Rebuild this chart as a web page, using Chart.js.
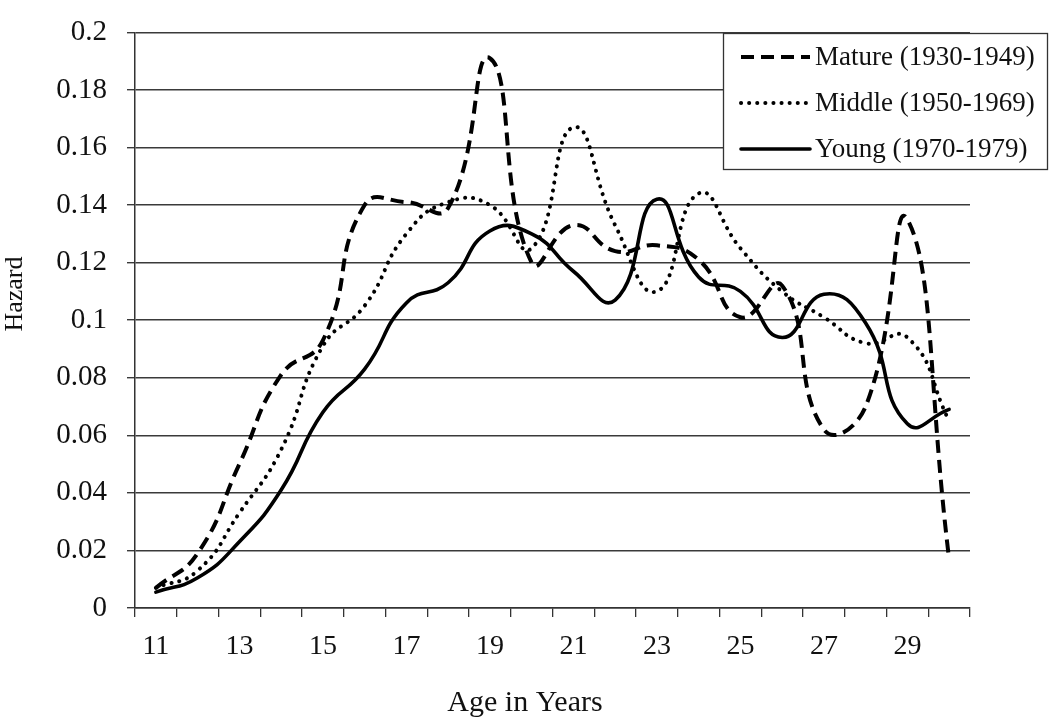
<!DOCTYPE html>
<html>
<head>
<meta charset="utf-8">
<script src="https://cdn.jsdelivr.net/npm/chart.js@4.4.1/dist/chart.umd.min.js"></script>
<style>
  html, body { margin: 0; padding: 0; background: #fff; }
  #wrap { width: 1050px; height: 719px; position: relative; }
</style>
</head>
<body>
<div id="wrap"><canvas id="hazardChart"></canvas></div>
<script>
/* Hazard by age, three birth cohorts */

var ages = ['11', '12', '13', '14', '15', '16', '17', '18', '19', '20',
            '21', '22', '23', '24', '25', '26', '27', '28', '29', '30'];

var matureVals = [0.007, 0.019, 0.050, 0.081, 0.093, 0.140, 0.141, 0.139, 0.191, 0.120,
                  0.133, 0.124, 0.126, 0.121, 0.101, 0.112, 0.062, 0.070, 0.135, 0.017];

var middleVals = [0.007, 0.013, 0.033, 0.055, 0.091, 0.105, 0.130, 0.141, 0.140, 0.125,
                  0.167, 0.133, 0.110, 0.144, 0.125, 0.110, 0.101, 0.092, 0.094, 0.065];

var youngVals  = [0.0055, 0.0105, 0.023, 0.041, 0.068, 0.083, 0.106, 0.113, 0.131, 0.130,
                  0.117, 0.107, 0.142, 0.115, 0.110, 0.094, 0.109, 0.099, 0.064, 0.069];

var seriesNames = ['Mature (1930-1949)', 'Middle (1950-1969)', 'Young (1970-1979)'];
var xTitle = 'Age in Years';
var yTitle = 'Hazard';

var serif = '"Liberation Serif", "Times New Roman", serif';
var ink = '#000';

// boxed key in the upper right + both axis titles (they sit off-centre in the source)
var boxLegend = {
  id: 'boxLegend',
  afterDraw: function(chart) {
    var ctx = chart.ctx;
    var x0 = 723, y0 = 33, w = 324, h = 136;
    ctx.save();
    ctx.fillStyle = '#fff';
    ctx.fillRect(x0, y0, w, h);
    ctx.strokeStyle = '#333';
    ctx.lineWidth = 1.3;
    ctx.strokeRect(x0 + 0.5, y0 + 0.5, w, h);
    var rows = [57, 103, 149];
    chart.data.datasets.forEach(function(ds, i) {
      var y = rows[i];
      ctx.beginPath();
      ctx.strokeStyle = ds.borderColor;
      ctx.lineWidth = ds.borderWidth;
      ctx.lineCap = ds.borderCapStyle || 'butt';
      ctx.setLineDash(ds.borderDash || []);
      ctx.moveTo(741, y);
      ctx.lineTo(810, y);
      ctx.stroke();
      ctx.setLineDash([]);
      ctx.fillStyle = '#111';
      ctx.font = '27px ' + serif;
      ctx.textAlign = 'left';
      ctx.textBaseline = 'middle';
      ctx.fillText(ds.label, 815, y + 1);
    });

    ctx.fillStyle = '#111';
    ctx.textAlign = 'center';
    ctx.textBaseline = 'middle';

    // x title, centred on the whole picture
    ctx.font = '30px ' + serif;
    ctx.fillText(xTitle, 525, 703);

    // y title, a little above the plot's middle
    ctx.translate(15, 294);
    ctx.rotate(-Math.PI / 2);
    ctx.font = '26px ' + serif;
    ctx.fillText(yTitle, 0, 0);
    ctx.restore();
  }
};

new Chart(document.getElementById('hazardChart'), {
  type: 'line',
  data: {
    labels: ages,
    datasets: [
      { label: seriesNames[0], data: matureVals, borderColor: ink, borderWidth: 4,
        borderDash: [13, 7], borderCapStyle: 'butt', pointRadius: 0, tension: 0.5, fill: false },
      { label: seriesNames[1], data: middleVals, borderColor: ink, borderWidth: 4,
        borderDash: [0.1, 8], borderCapStyle: 'round', pointRadius: 0, tension: 0.5, fill: false },
      { label: seriesNames[2], data: youngVals, borderColor: ink, borderWidth: 3.6,
        borderCapStyle: 'round', pointRadius: 0, tension: 0.5, fill: false }
    ]
  },
  options: {
    responsive: true, maintainAspectRatio: false, animation: false,
    layout: { padding: { left: 0, right: 80, top: 13, bottom: 0 } },
    plugins: { legend: { display: false }, tooltip: { enabled: false } },
    scales: {
      x: {
        offset: true,
        grid: { offset: true, drawOnChartArea: false, drawTicks: true, tickLength: 9, color: '#333', lineWidth: 1.3 },
        border: { display: true, color: '#333', width: 1.5 },
        ticks: {
          autoSkip: false, maxRotation: 0, padding: 13, color: '#111',
          font: { family: serif, size: 28 },
          callback: function(v, i) { return i % 2 === 0 ? ages[i] : ''; }
        },
        afterFit: function(s) { s.height = 111; }
      },
      y: {
        min: 0, max: 0.2,
        grid: { color: '#3a3a3a', lineWidth: 1.4, tickLength: 8 },
        border: { display: true, color: '#333', width: 1.5 },
        ticks: {
          stepSize: 0.02, padding: 20, color: '#111',
          font: { family: serif, size: 29, lineHeight: 0.85 },
          callback: function(v) { return String(+v.toFixed(2)); }
        },
        afterFit: function(s) { s.width = 135; }
      }
    }
  },
  plugins: [boxLegend]
});
</script>
</body>
</html>
